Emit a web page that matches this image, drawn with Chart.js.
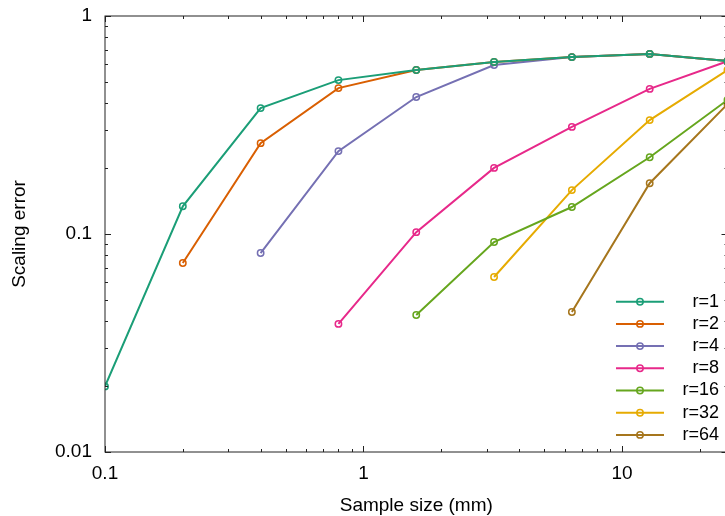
<!DOCTYPE html>
<html>
<head>
<meta charset="utf-8">
<script src="https://cdn.jsdelivr.net/npm/chart.js@4/dist/chart.umd.min.js"></script>
<style>
  html, body { margin: 0; padding: 0; background: #fff; overflow: hidden; }
  #wrap { width: 725px; height: 516px; overflow: hidden; }
</style>
</head>
<body>
<div id="wrap"><canvas id="errChart" width="733" height="516"></canvas></div>
<script>
// sample sizes (mm) on the x axis
const sizes = [0.1, 0.2, 0.4, 0.8, 1.6, 3.2, 6.4, 12.8, 25.6];

// scaling error per series, null where the series has no point
const r1  = [0.020, 0.134, 0.378, 0.508, 0.565, 0.615, 0.648, 0.670, 0.622];
const r2  = [null, 0.0736, 0.261, 0.467, 0.565, 0.615, 0.648, 0.670, 0.622];
const r4  = [null, null, 0.0818, 0.240, 0.425, 0.596, 0.648, 0.670, 0.622];
const r8  = [null, null, null, 0.0387, 0.102, 0.201, 0.310, 0.463, 0.620];
const r16 = [null, null, null, null, 0.0425, 0.0919, 0.133, 0.225, 0.412];
const r32 = [null, null, null, null, null, 0.0635, 0.159, 0.333, 0.565];
const r64 = [null, null, null, null, null, null, 0.0439, 0.171, 0.394];

const seriesLabels = ['r=1', 'r=2', 'r=4', 'r=8', 'r=16', 'r=32', 'r=64'];
const seriesValues = [r1, r2, r4, r8, r16, r32, r64];
const seriesColors = ['#1b9e77', '#d95f02', '#7570b3', '#e7298a', '#66a61e', '#e6ab02', '#a6761d'];

const xTicks = [0.1, 1, 10];
const yTicks = [0.01, 0.1, 1];

const FONT = '"Liberation Sans", Arial, Helvetica, sans-serif';

// build the datasets, skipping the missing points
const datasets = seriesValues.map((vals, i) => ({
    label: seriesLabels[i],
    data: sizes.map((s, j) => ({ x: s, y: vals[j] })).filter(p => p.y !== null),
    borderColor: seriesColors[i],
    backgroundColor: seriesColors[i],
    borderWidth: 2,
    pointRadius: 3.2,
    pointBorderWidth: 1.5,
    pointBackgroundColor: 'rgba(255,255,255,0)',
    pointBorderColor: seriesColors[i],
    tension: 0
}));

// minor tick values (2..9 in each decade) inside [min, max]
function minorValues(min, max) {
    const out = [];
    for (let d = Math.floor(Math.log10(min)); d <= Math.ceil(Math.log10(max)); d++) {
        for (let k = 2; k <= 9; k++) {
            const v = k * Math.pow(10, d);
            if (v > min && v < max) out.push(v);
        }
    }
    return out;
}

// gnuplot style frame: box with inward ticks on all four sides, plus the key
const frameAndKey = {
    id: 'frameAndKey',
    afterDraw(chart) {
        const ctx = chart.ctx;
        const a = chart.chartArea;
        const xs = chart.scales.x;
        const ys = chart.scales.y;
        ctx.save();
        ctx.strokeStyle = '#222';
        ctx.lineWidth = 1;
        ctx.strokeRect(a.left, a.top, a.right - a.left, a.bottom - a.top);

        function xTick(v, len) {
            const px = Math.round(xs.getPixelForValue(v)) + 0.5;
            ctx.beginPath();
            ctx.moveTo(px, a.bottom); ctx.lineTo(px, a.bottom - len);
            ctx.moveTo(px, a.top); ctx.lineTo(px, a.top + len);
            ctx.stroke();
        }
        function yTick(v, len) {
            const py = Math.round(ys.getPixelForValue(v)) + 0.5;
            ctx.beginPath();
            ctx.moveTo(a.left, py); ctx.lineTo(a.left + len, py);
            ctx.moveTo(a.right, py); ctx.lineTo(a.right - len, py);
            ctx.stroke();
        }
        xTicks.forEach(v => xTick(v, 6));
        minorValues(xs.min, xs.max).forEach(v => xTick(v, 3));
        yTicks.forEach(v => yTick(v, 6));
        minorValues(ys.min, ys.max).forEach(v => yTick(v, 3));

        // key in the lower right corner
        const top = 301.7, step = 22.2;
        chart.data.datasets.forEach((ds, i) => {
            const y = top + step * i;
            ctx.strokeStyle = ds.borderColor;
            ctx.lineWidth = 2;
            ctx.beginPath();
            ctx.moveTo(616, y); ctx.lineTo(664, y);
            ctx.stroke();
            ctx.lineWidth = 1.5;
            ctx.beginPath();
            ctx.arc(640, y, 3.2, 0, Math.PI * 2);
            ctx.stroke();
            ctx.fillStyle = '#000';
            ctx.font = '18px ' + FONT;
            ctx.textAlign = 'right';
            ctx.textBaseline = 'middle';
            ctx.fillText(ds.label, 719, y);
        });
        ctx.restore();
    }
};

new Chart(document.getElementById('errChart').getContext('2d'), {
    type: 'line',
    data: { datasets: datasets },
    options: {
        responsive: false,
        animation: false,
        devicePixelRatio: 1,
        layout: { padding: { top: 16, right: 0, left: 0, bottom: 0 } },
        plugins: { legend: { display: false }, tooltip: { enabled: false } },
        scales: {
            x: {
                type: 'logarithmic',
                min: 0.1,
                max: 25.6,
                afterFit: s => { s.height = 64; s.paddingLeft = 0; s.paddingRight = 0; s.paddingTop = 0; s.paddingBottom = 0; },
                afterBuildTicks: s => { s.ticks = xTicks.map(v => ({ value: v })); },
                grid: { display: false, drawTicks: false },
                border: { display: false },
                ticks: {
                    color: '#000',
                    padding: 10,
                    maxRotation: 0,
                    autoSkip: false,
                    font: { family: FONT, size: 19 },
                    callback: v => String(v)
                },
                title: {
                    display: true,
                    text: 'Sample size (mm)',
                    color: '#000',
                    font: { family: FONT, size: 19, lineHeight: 1 },
                    padding: { top: 0, bottom: 0.5 }
                }
            },
            y: {
                type: 'logarithmic',
                min: 0.01,
                max: 1,
                afterFit: s => { s.width = 105; s.paddingTop = 0; s.paddingBottom = 0; s.paddingLeft = 0; s.paddingRight = 0; },
                afterBuildTicks: s => { s.ticks = yTicks.map(v => ({ value: v })); },
                grid: { display: false, drawTicks: false },
                border: { display: false },
                ticks: {
                    color: '#000',
                    padding: 13,
                    autoSkip: false,
                    font: { family: FONT, size: 19 },
                    callback: v => String(v)
                },
                title: {
                    display: true,
                    text: 'Scaling error',
                    color: '#000',
                    font: { family: FONT, size: 19, lineHeight: 1 },
                    padding: { top: 10.5, bottom: 0 }
                }
            }
        }
    },
    plugins: [frameAndKey]
});
</script>
</body>
</html>
